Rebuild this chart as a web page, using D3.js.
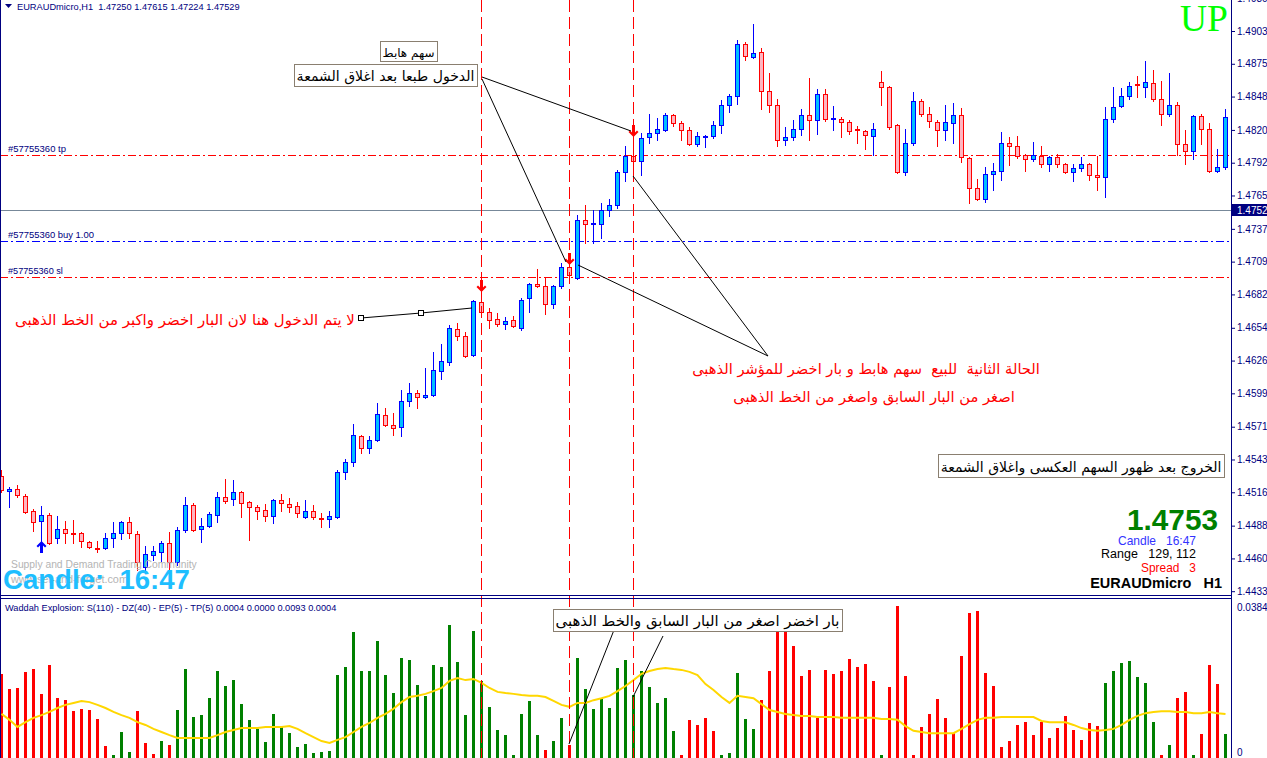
<!DOCTYPE html>
<html><head><meta charset="utf-8">
<script src="https://cdn.jsdelivr.net/npm/d3@7"></script>
<style>body{margin:0;background:#fff;overflow:hidden}svg{display:block}</style>
</head><body>
<svg id="c" width="1267" height="758"></svg>
<script>
// ---------- DATA ----------
const symbol = "EURAUDmicro,H1";
const lastBarOHLC = ["1.47250", "1.47615", "1.47224", "1.47529"];
const candleOpen = [
1.45296,1.45170,1.45187,1.45129,1.45003,1.44919,1.44969,1.44776,1.44852,1.44818,
1.44818,1.44743,1.44692,1.44692,1.44776,1.44818,1.44910,1.44810,1.44533,1.44634,
1.44659,1.44734,1.44575,1.44843,1.45053,1.44852,1.44877,1.44969,1.45120,1.45103,
1.45162,1.45078,1.45036,1.45011,1.44961,1.45095,1.45061,1.45045,1.44952,1.45003,
1.44944,1.44936,1.44952,1.45330,1.45414,1.45632,1.45531,1.45598,1.45808,1.45724,
1.45707,1.45926,1.45993,1.45959,1.45976,1.46177,1.46253,1.46530,1.46471,1.46311,
1.46756,1.46672,1.46614,1.46572,1.46605,1.46538,1.46790,1.46907,1.46890,1.46739,
1.46890,1.47049,1.46958,1.47444,1.47411,1.47411,1.47528,1.47570,1.47847,1.47981,
1.47939,1.48141,1.48174,1.48199,1.48325,1.48258,1.48199,1.48082,1.48141,1.48149,
1.48241,1.48409,1.48485,1.48921,1.48812,1.48854,1.48526,1.48409,1.48115,1.48141,
1.48208,1.48325,1.48283,1.48501,1.48292,1.48292,1.48266,1.48208,1.48191,1.48149,
1.48602,1.48560,1.48241,1.47847,1.48090,1.48443,1.48334,1.48266,1.48199,1.48258,
1.48325,1.47964,1.47713,1.47620,1.47830,1.47855,1.48090,1.48065,1.47990,1.47956,
1.47981,1.47914,1.47973,1.47914,1.47847,1.47880,1.47914,1.47822,1.47805,1.48292,
1.48401,1.48485,1.48585,1.48560,1.48594,1.48459,1.48334,1.48409,1.48082,1.48023,
1.48317,1.48208,1.47855,1.47888];
const candleHigh = [
1.45347,1.45204,1.45221,1.45145,1.45019,1.45045,1.44986,1.44961,1.44919,1.44927,
1.44826,1.44751,1.44751,1.44818,1.44910,1.44919,1.44952,1.44835,1.44709,1.44709,
1.44751,1.44826,1.44868,1.45120,1.45070,1.44944,1.44994,1.45162,1.45271,1.45263,
1.45170,1.45087,1.45053,1.45061,1.45103,1.45145,1.45112,1.45078,1.45095,1.45053,
1.44986,1.45003,1.45347,1.45439,1.45733,1.45640,1.45632,1.45909,1.45867,1.45825,
1.46018,1.46077,1.46018,1.46202,1.46337,1.46404,1.46563,1.46580,1.46504,1.46773,
1.46773,1.46706,1.46664,1.46630,1.46639,1.46790,1.46916,1.47033,1.46958,1.46899,
1.47083,1.47083,1.47486,1.47570,1.47528,1.47587,1.47620,1.47864,1.48065,1.48073,
1.48174,1.48334,1.48300,1.48342,1.48334,1.48275,1.48224,1.48183,1.48157,1.48275,
1.48451,1.48501,1.48954,1.48938,1.49089,1.48887,1.48677,1.48459,1.48224,1.48283,
1.48375,1.48636,1.48543,1.48543,1.48401,1.48308,1.48283,1.48233,1.48199,1.48258,
1.48694,1.48568,1.48250,1.48208,1.48518,1.48459,1.48392,1.48283,1.48409,1.48426,
1.48384,1.47973,1.47788,1.47888,1.47922,1.48183,1.48141,1.48149,1.47998,1.48099,
1.48065,1.47981,1.47998,1.47922,1.47914,1.47973,1.47922,1.47981,1.48392,1.48560,
1.48552,1.48602,1.48652,1.48778,1.48703,1.48610,1.48677,1.48434,1.48199,1.48325,
1.48334,1.48258,1.48040,1.48375];
const candleLow = [
1.45162,1.45036,1.45120,1.44986,1.44835,1.44743,1.44726,1.44734,1.44734,1.44734,
1.44701,1.44692,1.44659,1.44684,1.44701,1.44768,1.44776,1.44508,1.44508,1.44592,
1.44583,1.44407,1.44550,1.44826,1.44835,1.44743,1.44868,1.44910,1.45070,1.45053,
1.44952,1.44759,1.44936,1.44919,1.44902,1.45003,1.44994,1.44952,1.44944,1.44936,
1.44868,1.44868,1.44944,1.45271,1.45380,1.45489,1.45489,1.45590,1.45716,1.45640,
1.45632,1.45884,1.45867,1.45951,1.45968,1.46110,1.46228,1.46437,1.46294,1.46303,
1.46664,1.46538,1.46555,1.46530,1.46546,1.46521,1.46672,1.46882,1.46656,1.46706,
1.46874,1.46958,1.46949,1.47251,1.47251,1.47293,1.47478,1.47545,1.47771,1.47813,
1.47822,1.48090,1.48115,1.48191,1.48233,1.48115,1.48073,1.48065,1.48057,1.48132,
1.48174,1.48350,1.48417,1.48787,1.48803,1.48375,1.48350,1.48065,1.48073,1.48115,
1.48157,1.48115,1.48166,1.48275,1.48199,1.48141,1.48166,1.48090,1.48040,1.47990,
1.48409,1.48208,1.47839,1.47822,1.48073,1.48317,1.48224,1.48065,1.48115,1.48090,
1.47931,1.47587,1.47612,1.47595,1.47696,1.47780,1.47905,1.47964,1.47855,1.47939,
1.47888,1.47855,1.47888,1.47839,1.47771,1.47855,1.47780,1.47696,1.47637,1.48266,
1.48392,1.48459,1.48476,1.48476,1.48443,1.48241,1.48317,1.47990,1.47914,1.47956,
1.48082,1.47847,1.47847,1.47872];
const candleClose = [
1.45179,1.45187,1.45137,1.44994,1.44910,1.44969,1.44734,1.44852,1.44818,1.44810,
1.44751,1.44701,1.44684,1.44776,1.44818,1.44910,1.44818,1.44575,1.44642,1.44667,
1.44734,1.44575,1.44843,1.45053,1.44843,1.44877,1.44978,1.45120,1.45087,1.45162,
1.45070,1.45036,1.45003,1.44961,1.45095,1.45070,1.45036,1.44986,1.45003,1.44952,
1.44936,1.44961,1.45330,1.45414,1.45640,1.45531,1.45598,1.45817,1.45724,1.45699,
1.45926,1.45993,1.45959,1.45976,1.46186,1.46261,1.46538,1.46471,1.46303,1.46765,
1.46672,1.46605,1.46572,1.46597,1.46555,1.46773,1.46907,1.46890,1.46739,1.46890,
1.47049,1.46983,1.47444,1.47411,1.47419,1.47528,1.47570,1.47847,1.47981,1.47939,
1.48132,1.48174,1.48208,1.48325,1.48258,1.48199,1.48082,1.48149,1.48149,1.48241,
1.48409,1.48485,1.48921,1.48820,1.48845,1.48526,1.48409,1.48115,1.48141,1.48208,
1.48325,1.48283,1.48501,1.48292,1.48300,1.48266,1.48191,1.48199,1.48157,1.48208,
1.48560,1.48224,1.47847,1.48090,1.48443,1.48334,1.48275,1.48199,1.48266,1.48325,
1.47973,1.47713,1.47620,1.47830,1.47855,1.48090,1.48065,1.47981,1.47956,1.47990,
1.47914,1.47973,1.47914,1.47847,1.47880,1.47914,1.47822,1.47805,1.48292,1.48392,
1.48485,1.48568,1.48577,1.48602,1.48459,1.48334,1.48409,1.48082,1.48023,1.48317,
1.48208,1.47855,1.47888,1.48308];
const priceTicks = [1.49305,1.49030,1.48755,1.48480,1.48200,1.47925,1.47650,1.47370,1.47095,1.46820,
1.46540,1.46265,1.45990,1.45710,1.45435,1.45160,1.44880,1.44605,1.44330];
const bidPrice = 1.47529;
const orderNames = ["#57755360 tp", "#57755360 buy 1.00", "#57755360 sl"];
const orderPrices = [1.47990, 1.47268, 1.46966];
const orderColors = ["#ff0000", "#0000ff", "#ff0000"];
const markedCandles = [60, 71, 79];
const arrowCandles = [5, 60, 71, 79];
const arrowTipPrices = [1.44751, 1.46840, 1.47067, 1.48141];
const arrowDirs = ["up", "down", "down", "down"];
// Waddah Explosion: positive = trend up (green), negative = trend down (red)
const trendPower = [
-.0209,-.0170,-.0173,-.0214,-.0221,-.0158,-.0231,-.0148,-.0142,-.0114,
-.0120,-.0117,-.0094,-.0025,.0003,.0061,.0010,-.0114,-.0033,-.0005,
.0038,-.0028,.0117,.0221,.0099,.0104,.0148,.0216,.0178,.0193,
.0132,.0092,.0069,.0036,.0107,.0076,.0058,.0023,.0031,.0008,
.0010,.0013,.0206,.0226,.0315,.0216,.0216,.0292,.0206,.0160,
.0249,.0244,.0181,.0153,.0231,.0226,.0333,.0239,.0104,.0318,
.0191,.0125,.0066,.0053,.0003,.0107,.0140,.0053,-.0015,.0038,
.0097,-.0028,.0249,.0170,.0120,.0145,.0122,.0224,.0244,.0155,
.0216,.0175,.0135,.0148,.0064,-.0003,-.0092,-.0079,-.0097,-.0064,
.0002,.0008,.0211,.0094,.0069,-.0142,-.0216,-.0374,-.0331,-.0280,
-.0203,-.0219,-.0097,-.0219,-.0209,-.0216,-.0247,-.0226,-.0234,-.0191,
.0003,-.0175,-.0381,-.0203,-.0003,-.0074,-.0107,-.0145,-.0097,-.0058,
-.0254,-.0364,-.0369,-.0211,-.0178,-.0023,-.0038,-.0079,-.0086,-.0053,
-.0086,-.0046,-.0071,-.0102,-.0066,-.0041,-.0084,-.0076,.0186,.0216,
.0237,.0242,.0201,.0186,.0086,-.0002,.0028,-.0148,-.0163,.0003,
-.0056,-.0231,-.0183,.0056];
const explosionLine = [
.0107,.0092,.0074,.0086,.0097,.0104,.0112,.0122,.0130,.0135,
.0140,.0137,.0130,.0122,.0112,.0104,.0097,.0086,.0079,.0069,
.0061,.0053,.0046,.0046,.0046,.0046,.0046,.0053,.0061,.0066,
.0071,.0071,.0071,.0074,.0074,.0074,.0076,.0069,.0058,.0048,
.0038,.0033,.0041,.0048,.0061,.0074,.0084,.0097,.0107,.0120,
.0137,.0150,.0153,.0158,.0165,.0173,.0191,.0198,.0193,.0196,
.0186,.0173,.0163,.0160,.0158,.0155,.0153,.0153,.0150,.0140,
.0130,.0125,.0135,.0135,.0142,.0147,.0153,.0165,.0178,.0193,
.0209,.0216,.0221,.0224,.0221,.0219,.0214,.0206,.0183,.0168,
.0150,.0135,.0153,.0150,.0147,.0132,.0117,.0112,.0107,.0104,
.0102,.0102,.0099,.0099,.0099,.0097,.0097,.0097,.0097,.0097,
.0094,.0094,.0092,.0076,.0064,.0061,.0058,.0058,.0058,.0058,
.0069,.0081,.0092,.0097,.0097,.0099,.0099,.0099,.0099,.0099,
.0089,.0086,.0086,.0086,.0079,.0071,.0066,.0064,.0066,.0069,
.0079,.0092,.0102,.0109,.0112,.0114,.0114,.0112,.0112,.0109,
.0109,.0112,.0109,.0107];
const subTicks = [0.0384, 0];
const subTitle = "Waddah Explosion: S(110) - DZ(40) - EP(5) - TP(5) 0.0004 0.0000 0.0093 0.0004";

// ---------- LAYOUT ----------
const W = 1267, H = 758, AX = 1231, MAIN_B = 595, SUB_T = 599;
const N = candleOpen.length;
const svg = d3.select("#c");
svg.append("rect").attr("width", W).attr("height", H).attr("fill", "#fff");
const x = d3.scaleLinear().domain([0, N - 1]).range([1.5, 1225.5]);
const y = d3.scaleLinear().domain([1.4433, 1.4903]).range([591.2, 31]);
const ys = d3.scaleLinear().domain([0, 0.0384]).range([756, 605]);
const LAT = "Liberation Sans, Arial, sans-serif";
const ARB = "DejaVu Sans, sans-serif";

const defs = svg.append("defs");
defs.append("clipPath").attr("id", "cm").append("rect").attr("x", 0).attr("y", 0).attr("width", AX).attr("height", MAIN_B);
defs.append("clipPath").attr("id", "cs").append("rect").attr("x", 0).attr("y", SUB_T).attr("width", AX).attr("height", H - SUB_T);

function fit(t, w) {
  const l = t.node().getComputedTextLength();
  if (l > 0) t.attr("font-size", parseFloat(t.attr("font-size")) * w / l);
  return t;
}
function txt(g, s, px, py, o) {
  o = o || {};
  const t = g.append("text").attr("x", px).attr("y", py)
    .attr("font-family", o.font || LAT).attr("font-size", o.size || 11)
    .attr("font-weight", o.weight || "normal").attr("fill", o.fill || "#000")
    .attr("text-anchor", o.anchor || "start").style("white-space", "pre").text(s);
  if (o.dir) t.attr("direction", o.dir);
  if (o.width) fit(t, o.width);
  return t;
}
const crisp = v => Math.round(v) + 0.5;

// ---------- MAIN PANEL ----------
const gm = svg.append("g").attr("clip-path", "url(#cm)");
// order lines
orderPrices.forEach((p, i) => {
  gm.append("line").attr("x1", 0).attr("x2", AX).attr("y1", crisp(y(p))).attr("y2", crisp(y(p)))
    .attr("stroke", orderColors[i]).attr("stroke-dasharray", "8,3,2,3");
});
// bid line
gm.append("line").attr("x1", 0).attr("x2", AX).attr("y1", crisp(y(bidPrice))).attr("y2", crisp(y(bidPrice)))
  .attr("stroke", "#778899");
// order labels
orderPrices.forEach((p, i) => {
  txt(gm, orderNames[i], 8, Math.round(y(p)) - 3, {size: 9, fill: "#000080", width: [58, 86, 55][i]});
});

// candles
const cg = gm.append("g");
d3.range(N).forEach(i => {
  const o = candleOpen[i], c = candleClose[i], bull = c >= o;
  const cx = x(i);
  const stroke = bull ? "#0000ff" : "#ff0000";
  const fill = bull ? "#00bfff" : "#ffb6c1";
  cg.append("line").attr("x1", cx).attr("x2", cx)
    .attr("y1", Math.round(y(candleHigh[i]))).attr("y2", Math.round(y(candleLow[i])) + 1)
    .attr("stroke", stroke);
  const yt = Math.round(y(Math.max(o, c))), yb = Math.round(y(Math.min(o, c)));
  if (yb - yt < 1) {
    cg.append("line").attr("x1", cx - 2.5).attr("x2", cx + 2.5).attr("y1", yt + 0.5).attr("y2", yt + 0.5).attr("stroke", stroke);
  } else {
    cg.append("rect").attr("x", cx - 2).attr("y", yt + 0.5).attr("width", 4).attr("height", yb - yt)
      .attr("fill", fill).attr("stroke", stroke);
  }
});

// arrows
function arrowPath(dir) {
  const s = dir === "down" ? 1 : -1;
  const p = [[0,0],[-5,-5*s],[-3.5,-6.5*s],[-1.5,-4.5*s],[-1.5,-12*s],[1.5,-12*s],[1.5,-4.5*s],[3.5,-6.5*s],[5,-5*s]];
  return "M" + p.map(d => d.join(",")).join("L") + "Z";
}
arrowCandles.forEach((k, i) => {
  gm.append("path").attr("d", arrowPath(arrowDirs[i]))
    .attr("transform", `translate(${x(k)},${y(arrowTipPrices[i])})`)
    .attr("fill", arrowDirs[i] === "down" ? "#ff0000" : "#0000ff");
});

// watermark and candle timer (bottom left)
txt(gm, "Supply and Demand Trading Community", 11, 568, {size: 11, fill: "#b4b4b4", width: 186});
txt(gm, "www.set-and-forget.com", 11, 583, {size: 11, fill: "#b4b4b4", width: 117});
txt(gm, "Candle:  16:47", 3, 589, {size: 26, weight: "bold", fill: "#1ebeff", width: 187});

// right info block
txt(gm, "1.4753", 1218, 530, {size: 25, weight: "bold", fill: "#008000", anchor: "end", width: 91});
txt(gm, "Candle   16:47", 1196, 545, {size: 12, fill: "#3333ff", anchor: "end", width: 78});
txt(gm, "Range   129, 112", 1196, 558, {size: 12, fill: "#000", anchor: "end", width: 95});
txt(gm, "Spread   3", 1196, 572, {size: 12, fill: "#ff0000", anchor: "end", width: 55});
txt(gm, "EURAUDmicro   H1", 1222, 588, {size: 14, weight: "bold", fill: "#000", anchor: "end", width: 132});

// UP
txt(gm, "UP", 1180, 31, {font: "Liberation Serif, Times New Roman, serif", size: 38, fill: "#00ff00", width: 48});

// header
gm.append("path").attr("d", "M5,4L12,4L8.5,8Z").attr("fill", "#000080");
txt(gm, symbol + "  " + lastBarOHLC.join(" "), 17, 10, {size: 10, fill: "#000080", width: 223});

// ---------- SUB PANEL ----------
const gs = svg.append("g").attr("clip-path", "url(#cs)");
gs.selectAll("rect.bar").data(trendPower).join("rect")
  .attr("x", (d, i) => x(i) - 1.5).attr("width", 3)
  .attr("y", d => Math.round(ys(Math.abs(d)))).attr("height", d => Math.max(1, ys(0) - Math.round(ys(Math.abs(d))) + 2))
  .attr("fill", d => d >= 0 ? "#008000" : "#ff0000");
gs.append("path").datum(explosionLine)
  .attr("d", d3.line().x((d, i) => x(i)).y(d => ys(d)))
  .attr("fill", "none").attr("stroke", "#ffd700").attr("stroke-width", 2);
txt(gs, subTitle, 5, 611, {size: 10, fill: "#000080", width: 332});

// vertical marker lines (both panels)
markedCandles.forEach(k => {
  svg.append("line").attr("x1", x(k)).attr("x2", x(k)).attr("y1", 0).attr("y2", H)
    .attr("stroke", "#ff0000").attr("stroke-dasharray", "12,5");
});

// ---------- ANNOTATIONS ----------
const ga = svg.append("g");
function box(x1, y1, x2, y2, s, base) {
  ga.append("rect").attr("x", x1 + 0.5).attr("y", y1 + 0.5).attr("width", x2 - x1).attr("height", y2 - y1)
    .attr("fill", "#fff").attr("stroke", "#8a7f70");
  txt(ga, s, (x1 + x2) / 2, base, {font: ARB, size: 14, anchor: "middle", dir: "rtl", width: x2 - x1 - 5});
}
const callouts = [
  [[482,77],[631,131]], [[482,79],[566,262]],
  [[768,356],[578,265]], [[768,356],[633,176]],
  [[614,630],[569,744]], [[663,636],[633,697]],
  [[361,318],[421,313],[472,308]]
];
callouts.forEach(pts => {
  ga.append("path").attr("d", "M" + pts.map(p => p.join(",")).join("L"))
    .attr("fill", "none").attr("stroke", "#000").attr("stroke-width", 1);
});
[[361,318],[421,313]].forEach(p => {
  ga.append("rect").attr("x", p[0] - 2.5).attr("y", p[1] - 2.5).attr("width", 5).attr("height", 5)
    .attr("fill", "#fff").attr("stroke", "#000");
});
box(380, 41, 437, 61, "سهم هابط", 57);
box(294, 64, 477, 86, "الدخول طبعا بعد اغلاق الشمعة", 81);
box(938, 454, 1224, 477, "الخروج بعد ظهور السهم العكسى واغلاق الشمعة", 472);
box(553, 609, 842, 631, "بار اخضر اصغر من البار السابق والخط الذهبى", 626);
txt(ga, "لا يتم الدخول هنا لان البار اخضر واكبر من الخط الذهبى", 185, 325, {font: ARB, size: 14, fill: "#ff0000", anchor: "middle", dir: "rtl", width: 340});
txt(ga, "الحالة الثانية  للبيع  سهم هابط و بار اخضر للمؤشر الذهبى", 866, 374, {font: ARB, size: 14, fill: "#ff0000", anchor: "middle", dir: "rtl", width: 348});
txt(ga, "اصغر من البار السابق واصغر من الخط الذهبى", 874, 402, {font: ARB, size: 14, fill: "#ff0000", anchor: "middle", dir: "rtl", width: 282});

// ---------- AXES & FRAME ----------
const axM = svg.append("g").attr("transform", `translate(${AX},0)`)
  .call(d3.axisRight(y).tickValues(priceTicks).tickFormat(d3.format(".5f")).tickSize(4).tickPadding(2));
axM.select(".domain").remove();
axM.selectAll("line").attr("stroke", "#000080");
axM.selectAll("text").attr("fill", "#000080").attr("font-family", LAT).attr("font-size", 10);
const axS = svg.append("g").attr("transform", `translate(${AX},0)`)
  .call(d3.axisRight(ys).tickValues(subTicks).tickFormat(d => d === 0 ? "0" : d3.format(".4f")(d)).tickSize(0).tickPadding(6));
axS.select(".domain").remove();
axS.selectAll("text").attr("fill", "#000080").attr("font-family", LAT).attr("font-size", 10)
  .attr("dy", d => d === 0 ? "-0.05em" : "0.5em");
// bid label
const by = y(bidPrice);
svg.append("rect").attr("x", AX + 1).attr("y", Math.round(by) - 6).attr("width", W - AX).attr("height", 12).attr("fill", "#000080");
txt(svg, d3.format(".5f")(bidPrice), AX + 6, Math.round(by) + 4, {size: 10, fill: "#fff"});

const fr = svg.append("g").attr("stroke", "#000080").attr("fill", "none");
fr.append("line").attr("x1", 0.5).attr("x2", 0.5).attr("y1", 0).attr("y2", H);
fr.append("line").attr("x1", AX + 0.5).attr("x2", AX + 0.5).attr("y1", 0).attr("y2", H);
fr.append("line").attr("x1", 0).attr("x2", AX + 1).attr("y1", MAIN_B + 0.5).attr("y2", MAIN_B + 0.5);
fr.append("line").attr("x1", 0).attr("x2", AX + 1).attr("y1", SUB_T - 0.5).attr("y2", SUB_T - 0.5);
</script>
</body></html>
